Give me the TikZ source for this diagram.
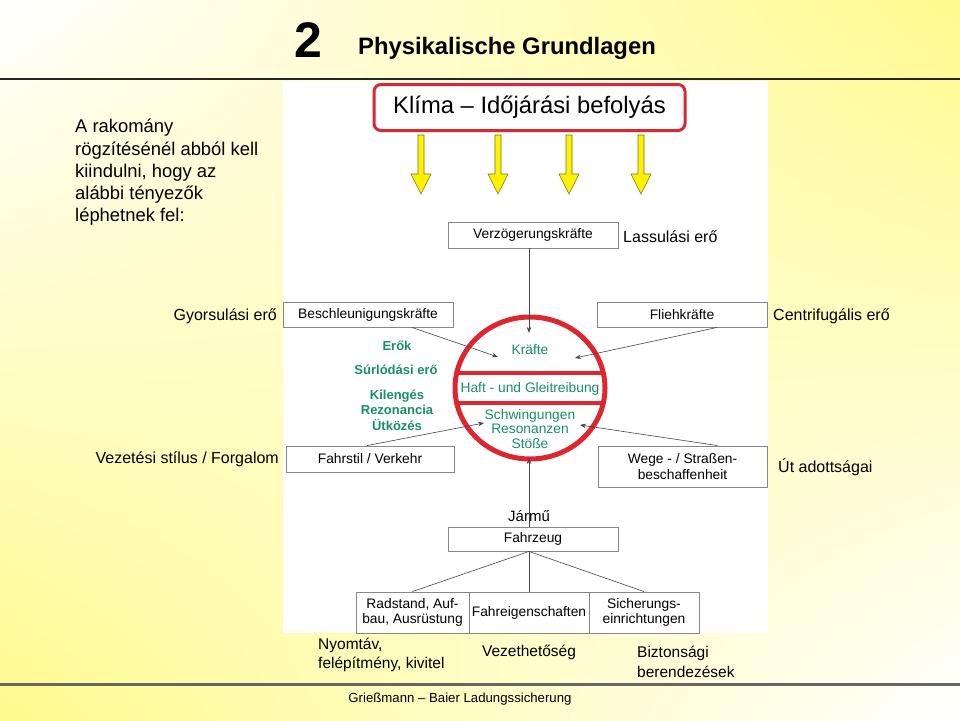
\documentclass[tikz,border=0pt]{standalone}
\usepackage{fontspec}
\setmainfont{Liberation Sans}
\usetikzlibrary{arrows.meta,calc,shadings}
\definecolor{yl}{RGB}{255,250,140}
\definecolor{kred}{RGB}{222,38,48}
\definecolor{grn}{RGB}{22,145,100}
\definecolor{bxgray}{RGB}{135,135,135}
\definecolor{lngray}{RGB}{70,70,70}
\newcommand{\fsz}[2]{\fontsize{#1}{#2}\selectfont}
\tikzset{
  box/.style={draw=bxgray, line width=0.9pt, fill=white, inner sep=0pt, align=center, font=\fsz{13.8}{15.5}},
  lbl/.style={inner sep=0pt, font=\fsz{16}{19}},
  gtext/.style={inner sep=0pt, text=grn, align=center, font=\fsz{13.8}{14.5}},
  gbold/.style={inner sep=0pt, text=grn, align=center, font=\bfseries\fsz{13}{15.5}},
  conn/.style={draw=lngray, line width=0.6pt},
  arr/.style={conn, -{Stealth[length=6pt,width=4.5pt]}},
  yarrow/.style={fill=yellow, draw=olive!80!black, line width=0.6pt}
}
\begin{document}
\begin{tikzpicture}[x=1pt,y=-1pt]
\useasboundingbox (0,0) rectangle (960,720);
\shade[upper left=white, upper right=yl, lower left=yl, lower right=white] (0,0) rectangle (960,720);
\fill[white] (283,81) rectangle (768,633);
% header
\draw[line width=1.6pt, black!85] (0,79) -- (960,79);
\node[inner sep=0pt, font=\bfseries\fsz{50}{52}] (num) at (308,40) {2};
\node[inner sep=0pt, anchor=west, font=\bfseries\fsz{23.8}{26}] (title) at (358,48) {Physikalische Grundlagen};
% footer
\draw[line width=3pt, black!60] (0,684.5) -- (960,684.5);
\node[inner sep=0pt, font=\fsz{13.2}{15}] (foot) at (460,699) {Grießmann – Baier Ladungssicherung};
% left paragraph
\node[inner sep=0pt, anchor=north west, align=left, font=\fsz{18.4}{22.3}] (intro) at (75,119)
  {A rakomány\\rögzítésénél abból kell\\kiindulni, hogy az\\alábbi tényezők\\léphetnek fel:};
% Klima box
\node[draw=kred, line width=3pt, rounded corners=7pt, fill=white, minimum width=311pt, minimum height=46pt, inner sep=0pt, font=\fsz{23.8}{26}] (klima) at (529.5,107.5) {Klíma – Időjárási befolyás};
% yellow arrows
\foreach \x/\n in {421/y1,498/y2,569/y3,641/y4}{
  \draw[yarrow] (\x-3,135) -- (\x+3,135) -- (\x+3,174) -- (\x+10,174) -- (\x,194) -- (\x-10,174) -- (\x-3,174) -- cycle;
}
% boxes
\node[box, minimum width=170pt, minimum height=26pt] (verz) at (533,235) {Verzögerungskräfte};
\node[lbl, anchor=west] (lass) at (623,237) {Lassulási erő};
\node[box, minimum width=170pt, minimum height=25pt] (besch) at (368,314.5) {Beschleunigungskräfte};
\node[lbl, anchor=east] (gyors) at (277,316) {Gyorsulási erő};
\node[box, minimum width=170pt, minimum height=25pt] (flieh) at (682,314.5) {Fliehkräfte};
\node[lbl, anchor=west] (centr) at (773,316) {Centrifugális erő};
\node[box, minimum width=168pt, minimum height=26pt] (fahr) at (370,459) {Fahrstil / Verkehr};
\node[lbl, anchor=east] (vez) at (279,459) {Vezetési stílus / Forgalom};
\node[box, minimum width=169pt, minimum height=41pt] (wege) at (682.5,466.5) {Wege - / Straßen-\\beschaffenheit};
\node[lbl, anchor=west] (utad) at (778,467) {Út adottságai};
% circle
\begin{scope}
  \clip (530,388) ellipse [x radius=75pt, y radius=71pt];
  \fill[white] (530,388) ellipse [x radius=75pt, y radius=71pt];
  \draw[kred, line width=4pt] (440,373) -- (620,373);
  \draw[kred, line width=4pt] (440,403) -- (620,403);
\end{scope}
\draw[kred, line width=5pt] (530,388) ellipse [x radius=75pt, y radius=71pt];
\node[gtext] (kraefte) at (530,350) {Kräfte};
\node[gtext] (haft) at (530,389) {Haft - und Gleitreibung};
\node[gtext] (schw) at (530,429) {Schwingungen\\Resonanzen\\Stöße};
% green labels
\node[gbold] (erok) at (397,346) {Erők};
\node[gbold] (surl) at (396,370) {Súrlódási erő};
\node[gbold] (kil) at (397,410) {Kilengés\\Rezonancia\\Ütközés};
% arrow targets
\coordinate (ktop) at (529,333);
\coordinate (kbot) at (529,458);
\coordinate (a1) at (498,357);
\coordinate (a2) at (575,358);
\coordinate (a3) at (484,423);
\coordinate (a4) at (580,425);
% vehicle
\node[inner sep=0pt, font=\fsz{15}{17}] (jarmu) at (529,516) {Jármű};
\node[box, minimum width=170pt, minimum height=24pt] (fzg) at (533,539) {Fahrzeug};
\node[box, minimum width=113pt, minimum height=41pt] (rad) at (412.5,612.5) {Radstand, Auf-\\bau, Ausrüstung};
\node[box, minimum width=120pt, minimum height=41pt] (fe) at (529,612.5) {Fahreigenschaften};
\node[box, minimum width=110pt, minimum height=41pt] (sich) at (644,612.5) {Sicherungs-\\einrichtungen};
\node[inner sep=0pt, anchor=north west, align=left, font=\fsz{15.5}{19}] (nyom) at (318,638) {Nyomtáv,\\felépítmény, kivitel};
\node[inner sep=0pt, font=\fsz{15.5}{19}] (vezet) at (529,652) {Vezethetőség};
\node[inner sep=0pt, anchor=north west, align=left, font=\fsz{15.5}{19.5}] (bizt) at (637,646) {Biztonsági\\berendezések};
% connectors
\draw[arr] (verz.south -| ktop) -- (ktop);
\draw[arr] ([xshift=44pt]besch.south) -- (a1);
\draw[arr] ([xshift=35pt]flieh.south) -- (a2);
\draw[arr] ([xshift=-3pt]fahr.north) -- (a3);
\draw[arr] ([xshift=35pt]wege.north) -- (a4);
\draw[arr] (fzg.north -| kbot) -- (kbot);
\draw[conn] (fzg.south -| fe.north) -- (rad.north);
\draw[conn] (fzg.south -| fe.north) -- (fe.north);
\draw[conn] (fzg.south -| fe.north) -- (sich.north);
\end{tikzpicture}
\end{document}
